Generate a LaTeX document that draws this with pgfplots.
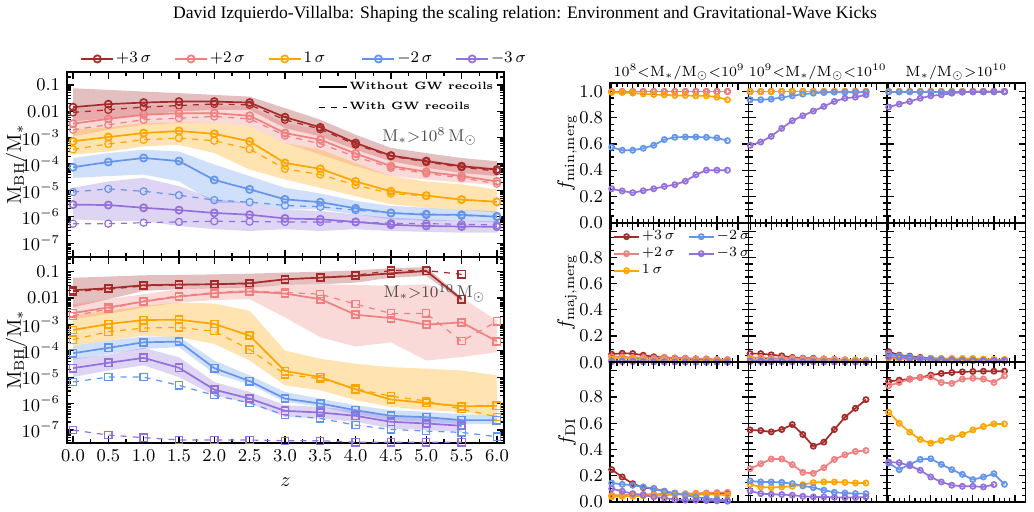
\documentclass[border=0pt]{standalone}
\usepackage{fontspec}
\newfontfamily\titlefont{Liberation Serif}
\usepackage{pgfplots}
\pgfplotsset{compat=1.18}
\usepackage{pgfplotstable}

\definecolor{c3p}{HTML}{A52A2A}
\definecolor{c2p}{HTML}{F08080}
\definecolor{c1}{HTML}{FFA500}
\definecolor{cm2}{HTML}{6495ED}
\definecolor{cm3}{HTML}{9370DB}

% ---------- median M_BH/M_* versus z, M_* > 1e8 Msun (s: no recoils, d: with recoils) ----------
\pgfplotstableread{
z   p3s     p3d     p2s     p2d     p1s     p1d     m2s     m2d     m3s     m3d
0   1.44e-2 9.1e-3  3.4e-3  2.0e-3  7.3e-4  3.6e-4  7.6e-5  8.7e-6  2.9e-6  5.5e-7
0.5 1.87e-2 1.14e-2 5.2e-3  3.1e-3  1.06e-3 5.8e-4  1.2e-4  1.15e-5 2.8e-6  5.5e-7
1   2.15e-2 1.44e-2 7.4e-3  4.8e-3  1.5e-3  8.3e-4  1.7e-4  9.3e-6  2.2e-6  6.0e-7
1.5 2.34e-2 1.66e-2 8.5e-3  5.5e-3  1.8e-3  9.7e-4  1.3e-4  6.6e-6  1.8e-6  6.4e-7
2   2.34e-2 1.9e-2  8.5e-3  6.4e-3  1.4e-3  7.7e-4  2.5e-5  4.3e-6  1.4e-6  6.8e-7
2.5 2.15e-2 1.76e-2 6.8e-3  5.2e-3  7.3e-4  3.7e-4  1.1e-5  3.6e-6  1.2e-6  6.6e-7
3   6.0e-3  4.8e-3  1.5e-3  1.2e-3  1.1e-4  6.6e-5  4.6e-6  2.7e-6  8.7e-7  6.4e-7
3.5 2.46e-3 2.1e-3  8.4e-4  5.9e-4  6.6e-5  4.0e-5  3.6e-6  2.4e-6  8.1e-7  6.4e-7
4   6.3e-4  5.5e-4  2.5e-4  1.9e-4  2.2e-5  1.6e-5  2.1e-6  1.8e-6  6.4e-7  6.4e-7
4.5 2.1e-4  2.0e-4  8.4e-5  7.2e-5  9.3e-6  7.7e-6  1.4e-6  1.4e-6  5.0e-7  5.7e-7
5   1.3e-4  1.2e-4  5.1e-5  4.4e-5  6.4e-6  6.2e-6  1.2e-6  1.3e-6  4.5e-7  5.5e-7
5.5 8.3e-5  7.6e-5  3.5e-5  3.0e-5  4.5e-6  4.5e-6  1.2e-6  1.1e-6  4.3e-7  5.2e-7
6   6.2e-5  5.4e-5  2.2e-5  1.8e-5  3.7e-6  3.7e-6  1.0e-6  1.07e-6 4.2e-7  4.9e-7
}\lowmass

% ---------- median M_BH/M_* versus z, M_* > 1e10 Msun ----------
\pgfplotstableread{
z   p3s     p3d     p2s     p2d     p1s     p1d     m2s     m2d     m3s     m3d
0   1.98e-2 1.76e-2 2.7e-3  2.13e-3 6.15e-4 2.66e-4 8.1e-5  6.6e-6  2.2e-5  9.9e-8
0.5 2.35e-2 2.16e-2 4.4e-3  3.8e-3  1.04e-3 5.3e-4  1.29e-4 1.01e-5 3.5e-5  6.4e-8
1   3.06e-2 2.88e-2 7.4e-3  7.8e-3  1.47e-3 7.3e-4  2.1e-4  1.01e-5 5.4e-5  5.1e-8
1.5 3.24e-2 3.15e-2 1.14e-2 1.21e-2 1.51e-3 7.7e-4  2.23e-4 4.9e-6  2.27e-5 4.15e-8
2   3.33e-2 3.33e-2 1.52e-2 1.62e-2 1.04e-3 5.5e-4  2.2e-5  2.06e-6 3.37e-6 4.15e-8
2.5 3.63e-2 3.53e-2 1.76e-2 1.87e-2 3.76e-4 1.12e-4 7.1e-6  1.06e-6 1.54e-6 4.15e-8
3   5.14e-2 5.14e-2 1.48e-2 1.62e-2 1.7e-5  1.28e-5 1.54e-6 3.63e-7 5.3e-7  3.9e-8
3.5 5.94e-2 5.94e-2 9.1e-3  1.4e-2  1.01e-5 8.75e-6 1.0e-6  2.72e-7 4.58e-7 3.9e-8
4   6.87e-2 7.27e-2 2.33e-3 5.9e-3  3.47e-6 3.67e-6 5.6e-7  1.52e-7 3.43e-7 3.4e-8
4.5 8.65e-2 0.11    1.74e-3 2.6e-3  1.42e-6 1.89e-6 3.43e-7 1.05e-7 2.04e-7 3.4e-8
5   0.106   0.11    9.8e-4  2.6e-3  1.06e-6 1.26e-6 3.05e-7 9.06e-8 1.76e-7 3.4e-8
5.5 9.06e-3 7.93e-2 1.2e-3  2.3e-4  7.9e-7  6.1e-7  2.36e-7 8.07e-8 1.44e-7 3.4e-8
6   nan     nan     2.3e-4  1.3e-3  8.2e-7  3.14e-7 2.36e-7 5.55e-8 nan     nan
}\highmass

% ---------- merger / disc-instability fractions ----------
\pgfplotstableread{
z   p3    p2    p1    m2    m3
0   1.0   1.0   0.993 0.575 0.258
0.5 1.0   1.0   0.992 0.552 0.241
1   1.0   1.0   0.988 0.552 0.228
1.5 1.0   1.0   0.982 0.567 0.243
2   1.0   1.0   0.977 0.590 0.258
2.5 1.0   1.0   0.975 0.633 0.276
3   1.0   1.0   0.970 0.651 0.289
3.5 1.0   1.0   0.970 0.653 0.316
4   1.0   1.0   0.967 0.653 0.365
4.5 1.0   1.0   0.967 0.651 0.400
5   1.0   1.0   0.957 0.646 0.400
5.5 1.0   1.0   0.937 0.625 0.400
}\tMinA
\pgfplotstableread{
z   p3    p2    p1    m2    m3
0   1.0   1.0   1.0   0.937 0.590
0.5 1.0   1.0   1.0   0.937 0.615
1   1.0   1.0   1.0   0.942 0.658
1.5 1.0   1.0   1.0   0.955 0.719
2   1.0   1.0   1.0   0.967 0.777
2.5 1.0   1.0   1.0   0.980 0.815
3   1.0   1.0   1.0   0.987 0.851
3.5 1.0   1.0   1.0   0.992 0.886
4   1.0   1.0   1.0   0.995 0.924
4.5 1.0   1.0   1.0   0.995 0.949
5   1.0   1.0   1.0   0.995 0.957
5.5 1.0   1.0   1.0   0.995 0.975
}\tMinB
\pgfplotstableread{
z   p3    p2    p1    m2    m3
0   1.0   1.0   1.0   0.997 0.881
0.5 1.0   1.0   1.0   0.997 0.904
1   1.0   1.0   1.0   0.997 0.924
1.5 1.0   1.0   1.0   0.997 0.949
2   1.0   1.0   1.0   0.997 0.967
2.5 1.0   1.0   1.0   0.997 0.975
3   1.0   1.0   1.0   0.997 0.987
3.5 1.0   1.0   1.0   0.997 0.995
4   1.0   1.0   1.0   0.997 1.0
4.5 1.0   1.0   1.0   0.997 1.0
5   1.0   1.0   1.0   0.997 1.0
5.5 1.0   1.0   1.0   0.997 1.0
}\tMinC
\pgfplotstableread{
z   p3    p2    p1    m2    m3
0   0.062 0.042 0.025 0.008 0.004
0.5 0.069 0.042 0.032 0.010 0.005
1   0.067 0.037 0.025 0.008 0.004
1.5 0.054 0.037 0.022 0.007 0.003
2   0.042 0.032 0.017 0.006 0.003
2.5 0.037 0.037 0.017 0.005 0.002
3   0.032 0.032 0.015 0.004 0.002
3.5 0.030 0.030 0.012 0.004 0.002
4   0.025 0.027 0.012 0.003 0.001
4.5 0.020 0.027 0.012 0.003 0.001
5   0.017 0.022 0.010 0.002 0.001
5.5 0.017 0.022 0.007 0.002 0.001
}\tMajA
\pgfplotstableread{
z   p3    p2    p1    m2    m3
0   0.066 0.037 0.025 0.012 0.005
0.5 0.066 0.037 0.020 0.012 0.005
1   0.057 0.032 0.017 0.010 0.004
1.5 0.049 0.030 0.017 0.010 0.004
2   0.037 0.030 0.017 0.008 0.003
2.5 0.032 0.030 0.017 0.008 0.003
3   0.030 0.025 0.017 0.007 0.003
3.5 0.025 0.025 0.017 0.006 0.002
4   0.022 0.022 0.017 0.005 0.002
4.5 0.017 0.020 0.017 0.005 0.002
5   0.017 0.017 0.017 0.004 0.001
5.5 0.012 0.017 0.012 0.004 0.001
}\tMajB
\pgfplotstableread{
z   p3    p2    p1    m2    m3
0   0.081 0.062 0.032 0.066 0.040
0.5 0.054 0.047 0.025 0.049 0.037
1   0.047 0.037 0.020 0.042 0.030
1.5 0.037 0.030 0.030 0.030 0.022
2   0.030 0.025 0.030 0.025 0.020
2.5 0.027 0.022 0.030 0.022 0.017
3   0.025 0.020 0.030 0.020 0.015
3.5 0.022 0.017 0.030 0.017 0.012
4   0.020 0.015 0.030 0.017 0.012
4.5 0.017 0.015 0.025 0.015 0.012
5   0.017 0.012 0.022 0.015 0.012
5.5 0.017 0.012 0.022 0.015 0.012
}\tMajC
\pgfplotstableread{
z   p3    p2    p1    m2    m3
0   0.246 0.051 0.038 0.144 0.101
0.5 0.190 0.051 0.043 0.134 0.081
1   0.139 0.056 0.043 0.127 0.063
1.5 0.109 0.058 0.046 0.114 0.051
2   0.101 0.058 0.051 0.101 0.038
2.5 0.081 0.061 0.051 0.081 0.030
3   0.061 0.063 0.056 0.068 0.018
3.5 0.058 0.063 0.056 0.051 0.013
4   0.058 0.066 0.056 0.038 0.013
4.5 0.061 0.068 0.056 0.025 0.010
5   0.063 0.071 0.056 0.018 0.008
5.5 0.066 0.073 0.051 0.013 0.005
}\tDIA
\pgfplotstableread{
z   p3    p2    p1    m2    m3
0   0.549 0.253 0.134 0.160 0.084
0.5 0.544 0.291 0.114 0.152 0.063
1   0.534 0.327 0.109 0.152 0.058
1.5 0.552 0.327 0.114 0.149 0.056
2   0.590 0.284 0.119 0.139 0.051
2.5 0.514 0.225 0.132 0.122 0.043
3   0.425 0.218 0.147 0.109 0.038
3.5 0.456 0.261 0.152 0.089 0.038
4   0.552 0.324 0.152 0.073 0.035
4.5 0.646 0.359 0.149 0.068 0.033
5   0.714 0.385 0.144 0.063 0.033
5.5 0.780 0.392 0.144 0.063 0.038
}\tDIB
\pgfplotstableread{
z   p3    p2    p1    m2    m3
0   0.919 0.886 0.684 0.296 0.304
0.5 0.929 0.911 0.600 0.246 0.299
1   0.937 0.937 0.532 0.286 0.276
1.5 0.949 0.949 0.476 0.324 0.241
2   0.967 0.954 0.448 0.329 0.190
2.5 0.980 0.911 0.468 0.286 0.152
3   0.987 0.904 0.489 0.246 0.127
3.5 0.992 0.937 0.514 0.210 0.119
4   0.995 0.944 0.549 0.170 0.119
4.5 0.997 0.937 0.575 0.190 0.114
5   0.997 0.911 0.595 0.215 0.132
5.5 0.997 0.962 0.595 0.134 nan
}\tDIC

\pgfplotsset{
  framepanel/.style={
    scale only axis,
    axis line style={line width=0.9pt},
    tick align=inside,
    major tick length=3.5pt,
    minor tick length=2pt,
    every tick/.style={black, line width=0.6pt},
    clip mode=global,
  },
  mbhpanel/.style={
    framepanel,
    width=218.5pt,
    xmin=-0.085, xmax=6.1,
    xtick={0,0.5,1,1.5,2,2.5,3,3.5,4,4.5,5,5.5,6},
    minor x tick num=1,
    ytick={1e-7,1e-6,1e-5,1e-4,1e-3,1e-2,1e-1},
    yticklabels={$10^{-7}$,$10^{-6}$,$10^{-5}$,$10^{-4}$,$10^{-3}$,$0.01$,$0.1$},
    minor ytick={2e-8,3e-8,4e-8,5e-8,6e-8,7e-8,8e-8,9e-8,
                 2e-7,3e-7,4e-7,5e-7,6e-7,7e-7,8e-7,9e-7,
                 2e-6,3e-6,4e-6,5e-6,6e-6,7e-6,8e-6,9e-6,
                 2e-5,3e-5,4e-5,5e-5,6e-5,7e-5,8e-5,9e-5,
                 2e-4,3e-4,4e-4,5e-4,6e-4,7e-4,8e-4,9e-4,
                 2e-3,3e-3,4e-3,5e-3,6e-3,7e-3,8e-3,9e-3,
                 2e-2,3e-2,4e-2,5e-2,6e-2,7e-2,8e-2,9e-2,2e-1,3e-1},
    tick label style={font=\fontsize{9}{10}\selectfont},
    xticklabel style={/pgf/number format/fixed, /pgf/number format/fixed zerofill,
                      /pgf/number format/precision=1},
    ylabel={$\mathrm{M_{BH}/M_*}$},
    ylabel style={font=\fontsize{12.5}{13}\selectfont},
    every axis y label/.style={at={(axis description cs:-0.117,0.5)}, rotate=90, anchor=center},
  },
  fracpanel/.style={
    framepanel,
    width=69.25pt, height=69.8pt,
    xmin=-0.08, xmax=6.5, ymin=0, ymax=1.065,
    xtick={0,1,2,3,4,5,6}, minor x tick num=3,
    ytick={0,0.2,0.4,0.6,0.8,1}, minor y tick num=3,
    tick label style={font=\fontsize{9.5}{10}\selectfont},
    xticklabel style={yshift=-4.2pt},
    yticklabel style={/pgf/number format/fixed, /pgf/number format/fixed zerofill,
                      /pgf/number format/precision=1},
    ylabel style={font=\fontsize{12.5}{13}\selectfont},
    every axis y label/.style={at={(axis description cs:-0.31,0.5)}, rotate=90, anchor=center},
    every axis title/.style={at={(axis description cs:0.5,1)}, anchor=south, inner sep=1.2pt,
                             font=\fontsize{7.4}{8}\selectfont},
    every axis plot/.append style={line width=0.85pt, mark=o, mark size=1.3pt},
  },
  noxlabels/.style={xticklabels={}},
  noylabels/.style={yticklabels={}},
  lowerrow/.style={yticklabels={$0.0$,$0.2$,$0.4$,$0.6$,$0.8$,{}}},
  spread/.style={fill=#1, fill opacity=0.3, draw=none, forget plot},
}

% median without (solid) and with (dashed) GW recoils
\newcommand{\pair}[4]{%
  \addplot[#3, line width=0.85pt, mark=#4, mark size=1.8pt] table[x=z, y=#2s]{#1};
  \addplot[#3, line width=0.6pt, dashed, mark=#4, mark size=1.8pt, mark options={solid}, forget plot] table[x=z, y=#2d]{#1};
}
% five populations in a fraction panel
\newcommand{\five}[1]{%
  \addplot[c3p, forget plot] table[x=z, y=p3]{#1};
  \addplot[c2p, forget plot] table[x=z, y=p2]{#1};
  \addplot[c1,  forget plot] table[x=z, y=p1]{#1};
  \addplot[cm2, forget plot] table[x=z, y=m2]{#1};
  \addplot[cm3, forget plot] table[x=z, y=m3]{#1};
}

\begin{document}
\begin{tikzpicture}
\path[use as bounding box] (0pt,0pt) rectangle (517pt,-256pt);

\node[font=\titlefont\fontsize{8.8}{10}\selectfont] at (262.5pt,-7pt)
  {David Izquierdo-Villalba: Shaping the scaling relation: Environment and Gravitational-Wave Kicks};

% ---- upper left: M_* > 1e8 ----
\begin{axis}[mbhpanel, ymode=log, at={(33.5pt,-36pt)}, anchor=north west, height=92.5pt,
  ymin=3e-8, ymax=0.31, xticklabels={},
  legend style={at={(axis description cs:0.03,1)}, anchor=south west, yshift=2pt,
    legend columns=5, draw=none, fill=none, inner sep=0pt,
    nodes={inner sep=1pt}, font=\fontsize{8.5}{9}\selectfont},
  legend cell align=left,
  legend image code/.code={\draw[mark repeat=2, mark phase=2, #1]
    plot coordinates {(0pt,0pt) (8pt,0pt) (16pt,0pt)};}]
  % 16th-84th percentile spreads (upper edge, then lower edge back)
  \addplot[spread=c3p] coordinates {(0,7.5e-2) (0.5,6.5e-2) (1,5.6e-2) (1.5,4.9e-2) (2,4.2e-2) (2.5,3.6e-2) (3,1.32e-2) (3.5,4.8e-3) (4,1.3e-3) (4.5,4.1e-4) (5,2.6e-4) (5.5,1.7e-4) (6,1.28e-4)
    (6,3.5e-5) (5.5,4.6e-5) (5,7.2e-5) (4.5,1.28e-4) (4,3.5e-4) (3.5,1.12e-3) (3,2.3e-3) (2.5,1.14e-2) (2,1.14e-2) (1.5,9.9e-3) (1,7.4e-3) (0.5,5.5e-3) (0,4.1e-3)};
  \addplot[spread=c2p] coordinates {(0,1.32e-2) (0.5,1.52e-2) (1,1.76e-2) (1.5,1.76e-2) (2,1.76e-2) (2.5,1.52e-2) (3,3.6e-3) (3.5,2.0e-3) (4,6.3e-4) (4.5,2.3e-4) (5,1.48e-4) (5.5,9.6e-5) (6,7.2e-5)
    (6,1.6e-5) (5.5,2.0e-5) (5,2.6e-5) (4.5,3.5e-5) (4,8.3e-5) (3.5,2.3e-4) (3,6.3e-4) (2.5,2.7e-3) (2,3.6e-3) (1.5,3.6e-3) (1,3.1e-3) (0.5,2.0e-3) (0,1.12e-3)};
  \addplot[spread=c1] coordinates {(0,2.0e-3) (0.5,2.5e-3) (1,3.6e-3) (1.5,3.8e-3) (2,3.6e-3) (2.5,2.7e-3) (3,6.3e-4) (3.5,3.5e-4) (4,1.1e-4) (4.5,3.5e-5) (5,2.2e-5) (5.5,1.7e-5) (6,1.09e-5)
    (6,1.44e-6) (5.5,1.9e-6) (5,2.2e-6) (4.5,3.0e-6) (4,6.1e-6) (3.5,1.26e-5) (3,2.6e-5) (2.5,6.2e-5) (2,2.6e-4) (1.5,5.4e-4) (1,4.7e-4) (0.5,3.0e-4) (0,2.3e-4)};
  \addplot[spread=cm2] coordinates {(0,1.7e-4) (0.5,2.6e-4) (1,3.5e-4) (1.5,3.0e-4) (2,9.6e-5) (2.5,3.5e-5) (3,1.26e-5) (3.5,7.7e-6) (4,4.0e-6) (4.5,2.6e-6) (5,2.2e-6) (5.5,1.9e-6) (6,1.66e-6)
    (6,6.0e-7) (5.5,7.0e-7) (5,7.0e-7) (4.5,8.0e-7) (4,1.24e-6) (3.5,1.9e-6) (3,1.9e-6) (2.5,3.4e-6) (2,3.4e-6) (1.5,2.2e-5) (1,4.0e-5) (0.5,3.5e-5) (0,3.0e-5)};
  \addplot[spread=cm3] coordinates {(0,1.26e-5) (0.5,2.2e-5) (1,3.0e-5) (1.5,1.46e-5) (2,4.6e-6) (2.5,3.4e-6) (3,1.9e-6) (3.5,1.66e-6) (4,1.24e-6) (4.5,9.3e-7) (5,8.0e-7) (5.5,7.0e-7) (6,7.0e-7)
    (6,2.5e-7) (5.5,2.5e-7) (5,2.7e-7) (4.5,2.9e-7) (4,3.4e-7) (3.5,2.9e-7) (3,3.4e-7) (2.5,2.9e-7) (2,3.4e-7) (1.5,4.5e-7) (1,7.0e-7) (0.5,7.0e-7) (0,8.0e-7)};
  \pair{\lowmass}{p3}{c3p}{o}
  \addlegendentry{\makebox[28pt][l]{$+3\,\sigma$}}
  \pair{\lowmass}{p2}{c2p}{o}
  \addlegendentry{\makebox[28pt][l]{$+2\,\sigma$}}
  \pair{\lowmass}{p1}{c1}{o}
  \addlegendentry{\makebox[28pt][l]{$1\,\sigma$}}
  \pair{\lowmass}{m2}{cm2}{o}
  \addlegendentry{\makebox[28pt][l]{$-2\,\sigma$}}
  \pair{\lowmass}{m3}{cm3}{o}
  \addlegendentry{\makebox[28pt][l]{$-3\,\sigma$}}
  \node[font=\fontsize{8.5}{9}\selectfont, text=black!70] at (axis description cs:0.83,0.65)
    {$\mathrm{M_*}{>}10^{8}\,\mathrm{M_\odot}$};
\end{axis}

% line-style key for the upper left panel
\begin{axis}[scale only axis, at={(33.5pt,-36pt)}, anchor=north west,
  width=218.5pt, height=92.5pt, hide axis, xmin=0, xmax=1, ymin=0, ymax=1,
  legend style={at={(axis description cs:0.985,0.97)}, anchor=north east,
    draw=none, fill=none, row sep=3pt, inner sep=1pt,
    nodes={inner sep=1pt}, font=\bfseries\fontsize{5.3}{6}\selectfont},
  legend cell align=left,
  legend image code/.code={\draw[#1] (0pt,0pt) -- (14pt,0pt);}]
  \addlegendimage{black, line width=0.85pt}
  \addlegendentry{Without GW recoils}
  \addlegendimage{black, line width=0.85pt, dashed}
  \addlegendentry{With GW recoils}
\end{axis}

% ---- lower left: M_* > 1e10 ----
\begin{axis}[mbhpanel, ymode=log, at={(33.5pt,-128.5pt)}, anchor=north west, height=93pt,
  ymin=3.2e-8, ymax=0.36,
  xlabel={$z$}, xlabel style={font=\fontsize{13.5}{14}\selectfont},
  every axis x label/.style={at={(axis description cs:0.5,0)}, anchor=center, yshift=-19.5pt}]
  \addplot[spread=c3p] coordinates {(0,5.9e-2) (0.5,6.5e-2) (1,7.3e-2) (1.5,7.5e-2) (2,7.9e-2) (2.5,8.4e-2) (3,9.2e-2) (3.5,0.1) (4,0.112) (4.5,0.134) (5,0.15) (5.5,1.05e-2)
    (5.5,7.8e-3) (5,6.87e-2) (4.5,5.94e-2) (4,3.85e-2) (3.5,3.33e-2) (3,3.15e-2) (2.5,2.5e-2) (2,2.35e-2) (1.5,2.16e-2) (1,1.87e-2) (0.5,9.06e-3) (0,4.4e-3)};
  \addplot[spread=c2p] coordinates {(0,5.9e-3) (0.5,9.1e-3) (1,1.4e-2) (1.5,2.16e-2) (2,2.5e-2) (2.5,2.9e-2) (3,3.15e-2) (3.5,3.33e-2) (4,3.15e-2) (4.5,2.9e-2) (5,3.33e-2) (5.5,1.05e-2) (6,1.38e-3)
    (6,8.9e-5) (5.5,5.8e-5) (5,4.3e-5) (4.5,2.1e-4) (4,1.45e-4) (3.5,3.3e-4) (3,1.85e-3) (2.5,9.1e-3) (2,8.3e-3) (1.5,6.8e-3) (1,4.4e-3) (0.5,2.47e-3) (0,1.6e-3)};
  \addplot[spread=c1] coordinates {(0,2.13e-3) (0.5,3.3e-3) (1,5.1e-3) (1.5,6.8e-3) (2,6.2e-3) (2.5,3.3e-3) (3,1.02e-4) (3.5,5.0e-5) (4,3.2e-5) (4.5,2.4e-5) (5,2.1e-5) (5.5,1.8e-5) (6,1.17e-5)
    (6,3.14e-7) (5.5,4.85e-7) (5,5.6e-7) (4.5,7.5e-7) (4,1.34e-6) (3.5,3.18e-6) (3,4.9e-6) (2.5,4.3e-5) (2,1.82e-4) (1.5,3.26e-4) (1,3.76e-4) (0.5,2.44e-4) (0,1.58e-4)};
  \addplot[spread=cm2] coordinates {(0,1.58e-4) (0.5,2.44e-4) (1,3.45e-4) (1.5,3.45e-4) (2,4.3e-5) (2.5,1.17e-5) (3,2.75e-6) (3.5,1.54e-6) (4,8.65e-7) (4.5,5.6e-7) (5,4.85e-7) (5.5,3.96e-7) (6,3.63e-7)
    (6,1.66e-7) (5.5,1.66e-7) (5,2.04e-7) (4.5,2.36e-7) (4,3.96e-7) (3.5,7.5e-7) (3,1.16e-6) (2.5,5.36e-6) (2,1.35e-5) (1.5,1.37e-4) (1,1.18e-4) (0.5,7.65e-5) (0,4.55e-5)};
  \addplot[spread=cm3] coordinates {(0,5.0e-5) (0.5,7.2e-5) (1,1.29e-4) (1.5,5.7e-5) (2,6.6e-6) (2.5,2.75e-6) (3,8.65e-7) (3.5,7.5e-7) (4,5.6e-7) (4.5,3.14e-7) (5,2.96e-7) (5.5,2.5e-7)
    (5.5,8.6e-8) (5,9.9e-8) (4.5,1.14e-7) (4,2.04e-7) (3.5,2.72e-7) (3,3.14e-7) (2.5,1.0e-6) (2,2.06e-6) (1.5,1.01e-5) (1,2.8e-5) (0.5,1.8e-5) (0,1.01e-5)};
  \pair{\highmass}{p3}{c3p}{square}
  \pair{\highmass}{p2}{c2p}{square}
  \pair{\highmass}{p1}{c1}{square}
  \pair{\highmass}{m2}{cm2}{square}
  \pair{\highmass}{m3}{cm3}{square}
  \node[font=\fontsize{8.5}{9}\selectfont, text=black!70] at (axis description cs:0.841,0.806)
    {$\mathrm{M_*}{>}10^{10}\,\mathrm{M_\odot}$};
\end{axis}

% ---- right: fractions of minor mergers, major mergers, disc instabilities ----
\begin{axis}[fracpanel, noxlabels, at={(305pt,-41.5pt)}, anchor=north west,
  ylabel={$f_{\mathrm{min,merg}}$},
  title={$10^{8}{<}\mathrm{M_*/M_\odot}{<}10^{9}$}]
  \five{\tMinA}
\end{axis}
\begin{axis}[fracpanel, noxlabels, noylabels, at={(374.25pt,-41.5pt)}, anchor=north west,
  title={$10^{9}{<}\mathrm{M_*/M_\odot}{<}10^{10}$}]
  \five{\tMinB}
\end{axis}
\begin{axis}[fracpanel, noxlabels, noylabels, at={(443.5pt,-41.5pt)}, anchor=north west,
  title={$\mathrm{M_*/M_\odot}{>}10^{10}$}]
  \five{\tMinC}
\end{axis}

\begin{axis}[fracpanel, noxlabels, lowerrow, at={(305pt,-111.35pt)}, anchor=north west,
  ylabel={$f_{\mathrm{maj,merg}}$},
  legend style={at={(axis description cs:0.02,0.96)}, anchor=north west,
    legend columns=2, draw=none, fill=none, inner sep=0pt, row sep=0.5pt,
    nodes={inner sep=1pt}, font=\fontsize{7}{8}\selectfont},
  legend cell align=left,
  legend image code/.code={\draw[mark repeat=2, mark phase=2, #1]
    plot coordinates {(0pt,0pt) (6.25pt,0pt) (12.5pt,0pt)};}]
  \five{\tMajA}
  \addlegendimage{c3p, line width=0.85pt, mark=o, mark size=1.3pt}
  \addlegendentry{\makebox[22pt][l]{$+3\,\sigma$}}
  \addlegendimage{cm2, line width=0.85pt, mark=o, mark size=1.3pt}
  \addlegendentry{$-2\,\sigma$}
  \addlegendimage{c2p, line width=0.85pt, mark=o, mark size=1.3pt}
  \addlegendentry{\makebox[22pt][l]{$+2\,\sigma$}}
  \addlegendimage{cm3, line width=0.85pt, mark=o, mark size=1.3pt}
  \addlegendentry{$-3\,\sigma$}
  \addlegendimage{c1, line width=0.85pt, mark=o, mark size=1.3pt}
  \addlegendentry{\makebox[22pt][l]{$1\,\sigma$}}
\end{axis}
\begin{axis}[fracpanel, noxlabels, noylabels, at={(374.25pt,-111.35pt)}, anchor=north west]
  \five{\tMajB}
\end{axis}
\begin{axis}[fracpanel, noxlabels, noylabels, at={(443.5pt,-111.35pt)}, anchor=north west]
  \five{\tMajC}
\end{axis}

\begin{axis}[fracpanel, lowerrow, at={(305pt,-181.15pt)}, anchor=north west,
  ylabel={$f_{\mathrm{DI}}$}]
  \five{\tDIA}
\end{axis}
\begin{axis}[fracpanel, noylabels, at={(374.25pt,-181.15pt)}, anchor=north west]
  \five{\tDIB}
\end{axis}
\begin{axis}[fracpanel, noylabels, at={(443.5pt,-181.15pt)}, anchor=north west]
  \five{\tDIC}
\end{axis}
\end{tikzpicture}
\end{document}
